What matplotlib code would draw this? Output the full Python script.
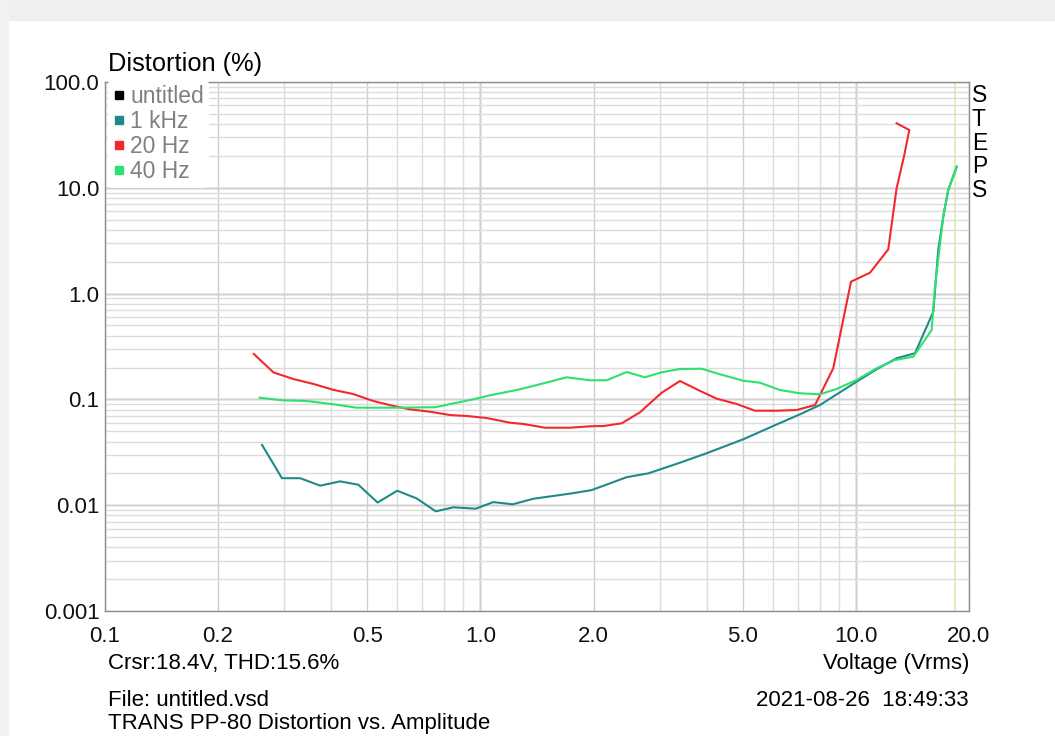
"""Distortion vs. amplitude sweep (TRANS PP-80), redrawn from an analyser screenshot."""

import matplotlib
matplotlib.use("Agg")
import matplotlib.pyplot as plt  # noqa: E402
from matplotlib.lines import Line2D  # noqa: E402
from matplotlib.patches import Rectangle  # noqa: E402
from matplotlib.ticker import FixedLocator, LogLocator, NullFormatter  # noqa: E402

plt.rcParams["font.family"] = ["Liberation Sans", "DejaVu Sans"]

# 1 kHz sweep: voltage (Vrms), THD (%)
khz1_v = [0.262, 0.296, 0.331, 0.374, 0.423, 0.473, 0.532, 0.600, 0.676, 0.760,
          0.847, 0.971, 1.082, 1.218, 1.382, 1.767, 1.978, 2.451, 2.799, 3.398,
          4.003, 5.01, 6.02, 7.095, 8.02, 10.04, 11.35, 12.83, 14.36, 16.07,
          16.56, 17.08, 17.61, 18.55]
khz1_thd = [0.0371, 0.0180, 0.0180, 0.0153, 0.0168, 0.0156, 0.0106, 0.0137, 0.0116, 0.00875,
            0.00955, 0.00927, 0.0107, 0.0102, 0.0115, 0.0130, 0.0139, 0.0184, 0.0200, 0.0252,
            0.0310, 0.0420, 0.0561, 0.0723, 0.0885, 0.147, 0.1925, 0.245, 0.273, 0.675,
            2.58, 5.33, 9.53, 15.8]

# 20 Hz sweep (the last point doubles back as the output clips)
hz20_v = [0.249, 0.281, 0.317, 0.359, 0.406, 0.458, 0.518, 0.586, 0.649, 0.734,
          0.829, 0.919, 1.039, 1.198, 1.30, 1.485, 1.731, 1.957, 2.123, 2.377,
          2.659, 3.038, 3.398, 3.80, 4.256, 4.812, 5.383, 6.148, 6.95, 7.78,
          8.70, 9.70, 10.9, 12.19, 12.83, 13.42, 13.87, 12.83]
hz20_thd = [0.269, 0.180, 0.156, 0.140, 0.123, 0.1125, 0.0966, 0.0867, 0.0806, 0.0765,
            0.0712, 0.0697, 0.0667, 0.0602, 0.0586, 0.0540, 0.0540, 0.0557, 0.0560, 0.0594,
            0.0755, 0.1157, 0.1493, 0.1227, 0.1016, 0.0905, 0.0782, 0.0782, 0.0794, 0.0885,
            0.197, 1.296, 1.576, 2.62, 9.89, 19.7, 35.2, 40.7]

# 40 Hz sweep
hz40_v = [0.258, 0.298, 0.344, 0.406, 0.468, 0.598, 0.757, 0.957, 1.06, 1.249,
          1.382, 1.697, 1.957, 2.168, 2.451, 2.742, 3.038, 3.398, 3.882, 4.343,
          5.01, 5.55, 6.27, 7.095, 8.02, 8.88, 10.04, 11.35, 12.7, 14.21,
          15.91, 16.23, 17.08, 17.61, 18.55]
hz40_thd = [0.1038, 0.0980, 0.0966, 0.0899, 0.0835, 0.0835, 0.0843, 0.1002, 0.1093, 0.1227,
            0.134, 0.1618, 0.1516, 0.1516, 0.1815, 0.1618, 0.1803, 0.1938, 0.195, 0.1727,
            0.1502, 0.1438, 0.1227, 0.1142, 0.1117, 0.1254, 0.1526, 0.1968, 0.2357, 0.2533,
            0.453, 1.162, 5.33, 9.53, 15.83]

CURSOR_V = 18.4
x_ticks = [0.1, 0.2, 0.5, 1.0, 2.0, 5.0, 10.0, 20.0]
x_labels = ["0.1", "0.2", "0.5", "1.0", "2.0", "5.0", "10.0", "20.0"]
y_ticks = [0.001, 0.01, 0.1, 1.0, 10.0, 100.0]
y_labels = ["0.001", "0.01", "0.1", "1.0", "10.0", "100.0"]

SERIES = [
    ("untitled", None, None, "#000000"),
    ("1 kHz", khz1_v, khz1_thd, "#1e8a8c"),
    ("20 Hz", hz20_v, hz20_thd, "#f3282c"),
    ("40 Hz", hz40_v, hz40_thd, "#2ee06e"),
]

FS = 16  # base text size


def main():
    W, H = 1055, 736
    fig = plt.figure(figsize=(W / 100, H / 100), dpi=100)
    fig.patch.set_facecolor("white")
    # screenshot frame: grey strips along the top and left edge
    fig.patches.append(Rectangle((0, 1 - 20 / H), 1, 20 / H, transform=fig.transFigure,
                                 color="#efefef", zorder=0))
    fig.patches.append(Rectangle((0, 0), 8 / W, 1, transform=fig.transFigure,
                                 color="#f2f2f2", zorder=0))

    left, right, top, bottom = 105, 969, 82, 611
    ax = fig.add_axes([left / W, 1 - bottom / H, (right - left) / W, (bottom - top) / H])
    ax.set_xscale("log")
    ax.set_yscale("log")
    ax.set_xlim(0.1, 20.0)
    ax.set_ylim(0.001, 100.0)

    ax.xaxis.set_major_locator(FixedLocator(x_ticks))
    ax.set_xticklabels(x_labels)
    ax.yaxis.set_major_locator(FixedLocator(y_ticks))
    ax.set_yticklabels(y_labels)
    ax.xaxis.set_minor_locator(LogLocator(base=10, subs=range(2, 10)))
    ax.yaxis.set_minor_locator(LogLocator(base=10, subs=range(2, 10)))
    ax.xaxis.set_minor_formatter(NullFormatter())
    ax.yaxis.set_minor_formatter(NullFormatter())
    ax.tick_params(which="both", length=0)
    ax.tick_params(axis="x", pad=11, labelsize=FS, colors="#111111")
    ax.tick_params(axis="y", pad=4, labelsize=FS, colors="#111111")

    # grids: light minor lines, darker decades
    ax.grid(which="minor", color="#dcdcdc", lw=1.0)
    ax.grid(which="major", color="#d0d0d0", lw=1.0)
    for v in [1.0, 10.0]:
        ax.axvline(v, color="#9c9c9c", lw=1.0, zorder=1)
    for v in [0.01, 0.1, 1.0, 10.0]:
        ax.axhline(v, color="#a8a8a8", lw=1.0, zorder=1)
    ax.axvline(CURSOR_V, color="#e4e8b0", lw=1.2, zorder=1)
    for s in ax.spines.values():
        s.set_color("#8c8c8c")
        s.set_linewidth(1.0)

    for name, xs, ys, color in SERIES:
        if xs is not None:
            ax.plot(xs, ys, color=color, lw=1.5, zorder=3)

    handles = [Line2D([], [], ls="none", marker="s", ms=6, color=c) for _, _, _, c in SERIES]
    leg = ax.legend(handles, [n for n, _, _, _ in SERIES], loc="upper left",
                    bbox_to_anchor=(-0.004, 1.016), frameon=True, fontsize=16.5,
                    labelcolor="#808080", handlelength=0.5, handletextpad=0.25,
                    labelspacing=0.09, borderpad=0.2, borderaxespad=0.3)
    leg.get_frame().set_facecolor("white")
    leg.get_frame().set_edgecolor("none")
    leg.get_frame().set_alpha(1.0)

    fig.text(108 / W, 1 - 64 / H, "Distortion (%)", fontsize=18.3, va="center", ha="left")
    fig.text(972 / W, 1 - 143 / H, "S\nT\nE\nP\nS", fontsize=16.5, va="center", ha="left",
             linespacing=1.03)
    fig.text(108 / W, 1 - 664 / H, "Crsr:18.4V, THD:15.6%", fontsize=FS, va="center")
    fig.text(969 / W, 1 - 664 / H, "Voltage (Vrms)", fontsize=FS, va="center", ha="right")
    fig.text(108 / W, 1 - 700 / H, "File: untitled.vsd", fontsize=FS, va="center")
    fig.text(969 / W, 1 - 700 / H, "2021-08-26  18:49:33", fontsize=FS, va="center",
             ha="right")
    fig.text(108 / W, 1 - 724 / H, "TRANS PP-80 Distortion vs. Amplitude", fontsize=FS,
             va="center")

    fig.savefig("out.png", dpi=100)
    plt.close(fig)


if __name__ == "__main__":
    main()
